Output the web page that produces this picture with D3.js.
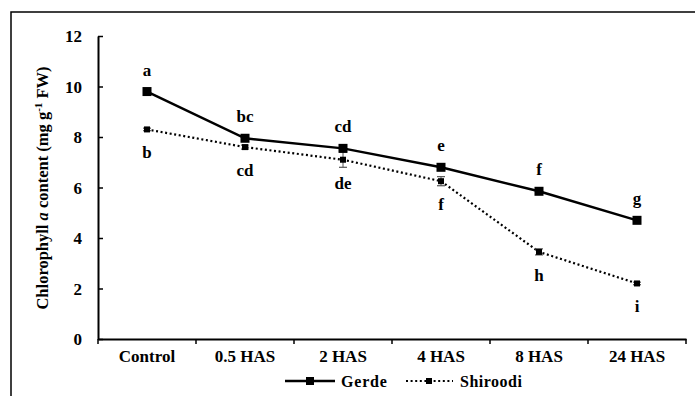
<!DOCTYPE html>
<html><head><meta charset="utf-8">
<script src="https://cdn.jsdelivr.net/npm/d3@7"></script>
<style>body{margin:0;background:#fff}svg{display:block}
svg text{font-family:"Liberation Serif","Tinos","DejaVu Serif","Times New Roman",serif !important;font-weight:bold;fill:#000}</style>
</head><body>
<script>
const categories = ["Control","0.5 HAS","2 HAS","4 HAS","8 HAS","24 HAS"];
const gerde = [9.8, 7.95, 7.55, 6.8, 5.85, 4.7];
const gerdeErr = [0.1, 0.1, 0.1, 0.1, 0.08, 0.08];
const gerdeLetters = ["a","bc","cd","e","f","g"];
const shiroodi = [8.3, 7.6, 7.1, 6.25, 3.45, 2.2];
const shiroodiErr = [0.05, 0.08, 0.3, 0.18, 0.12, 0.05];
const shiroodiLetters = ["b","cd","de","f","h","i"];
const yTicks = [0,2,4,6,8,10,12];

const FONT = '"Liberation Serif", Tinos, "DejaVu Serif", "Times New Roman", serif';
const W = 695, H = 396;
const svg = d3.select("body").append("svg").attr("width", W).attr("height", H)
  .attr("font-family", FONT);
svg.append("rect").attr("x",11).attr("y",12).attr("width",W).attr("height",H)
  .attr("fill","none").attr("stroke","#000").attr("stroke-width",1.5);

const m = {l:98, r:686, t:36, b:339};
const x = d3.scaleBand().domain(categories).range([m.l, m.r]);
const y = d3.scaleLinear().domain([0,12]).range([m.b, m.t]);
const cx = c => x(c) + x.bandwidth()/2;

// y axis (ticks pointing inward)
const ya = svg.append("g").attr("transform",`translate(${m.l},0)`)
  .call(d3.axisLeft(y).tickValues(yTicks).tickSize(-5).tickSizeOuter(0).tickPadding(16));
ya.attr("font-family", FONT);
ya.select(".domain").attr("stroke-width",2);
ya.selectAll(".tick line").attr("stroke-width",1.5);
ya.selectAll("text").attr("font-family", FONT).style("font-size","17px").attr("dy","0.35em");

// x axis
const xa = svg.append("g").attr("transform",`translate(0,${m.b})`)
  .call(d3.axisBottom(x).tickSize(0).tickPadding(11));
xa.attr("font-family", FONT);
xa.select(".domain").attr("stroke-width",2);
xa.selectAll("text").attr("font-family", FONT).style("font-size","17px");
const bounds = categories.map(c => x(c)).concat([m.r]);
svg.append("g").selectAll("line").data(bounds).join("line")
  .attr("x1",d=>d).attr("x2",d=>d).attr("y1",m.b).attr("y2",m.b+5)
  .attr("stroke","#000").attr("stroke-width",1.5);

// y label
svg.append("text").attr("transform",`translate(48,188) rotate(-90)`)
  .attr("text-anchor","middle").style("font-size","16.5px")
  .call(t => {
    t.append("tspan").text("Chlorophyll ");
    t.append("tspan").attr("font-style","italic").text("a");
    t.append("tspan").text(" content (mg g");
    t.append("tspan").attr("dy","-6").style("font-size","11px").text("-1");
    t.append("tspan").attr("dy","6").text(" FW)");
  });

const line = d3.line().x((d,i)=>cx(categories[i])).y(d=>y(d));

function errBars(vals, errs, color){
  const g = svg.append("g");
  vals.forEach((v,i)=>{
    const X = cx(categories[i]), e = errs[i];
    g.append("line").attr("x1",X).attr("x2",X).attr("y1",y(v+e)).attr("y2",y(v-e)).attr("stroke",color).attr("stroke-width",1);
    [v+e, v-e].forEach(w => g.append("line").attr("x1",X-4).attr("x2",X+4).attr("y1",y(w)).attr("y2",y(w)).attr("stroke",color).attr("stroke-width",1.2));
  });
}

// Shiroodi
svg.append("path").datum(shiroodi).attr("d",line).attr("fill","none")
  .attr("stroke","#000").attr("stroke-width",2.2).attr("stroke-dasharray","2,2.6");
errBars(shiroodi, shiroodiErr, "#555");
svg.append("g").selectAll("rect").data(shiroodi).join("rect")
  .attr("x",(d,i)=>cx(categories[i])-3).attr("y",d=>y(d)-3).attr("width",6).attr("height",6).attr("fill","#000");

// Gerde
svg.append("path").datum(gerde).attr("d",line).attr("fill","none")
  .attr("stroke","#000").attr("stroke-width",2.5);
errBars(gerde, gerdeErr, "#555");
svg.append("g").selectAll("rect").data(gerde).join("rect")
  .attr("x",(d,i)=>cx(categories[i])-4.5).attr("y",d=>y(d)-4.5).attr("width",9).attr("height",9).attr("fill","#000");

// letters
svg.append("g").selectAll("text").data(gerde).join("text")
  .attr("x",(d,i)=>cx(categories[i])).attr("y",d=>y(d)-16)
  .attr("text-anchor","middle").style("font-size","17px").text((d,i)=>gerdeLetters[i]);
svg.append("g").selectAll("text").data(shiroodi).join("text")
  .attr("x",(d,i)=>cx(categories[i])).attr("y",d=>y(d)+29)
  .attr("text-anchor","middle").style("font-size","17px").text((d,i)=>shiroodiLetters[i]);

// legend
const lg = svg.append("g").attr("transform","translate(0,381)");
lg.append("line").attr("x1",285).attr("x2",335).attr("stroke","#000").attr("stroke-width",2.5);
lg.append("rect").attr("x",306).attr("y",-4).attr("width",8).attr("height",8).attr("fill","#000");
lg.append("text").attr("x",341).attr("y",5.5).style("font-size","16px").style("letter-spacing","0.8px").text("Gerde");
lg.append("line").attr("x1",406).attr("x2",453).attr("stroke","#000").attr("stroke-width",2).attr("stroke-dasharray","2,2.6");
lg.append("rect").attr("x",426).attr("y",-3).attr("width",6).attr("height",6).attr("fill","#000");
lg.append("text").attr("x",460).attr("y",5.5).style("font-size","16px").style("letter-spacing","0.5px").text("Shiroodi");
</script>
</body></html>
